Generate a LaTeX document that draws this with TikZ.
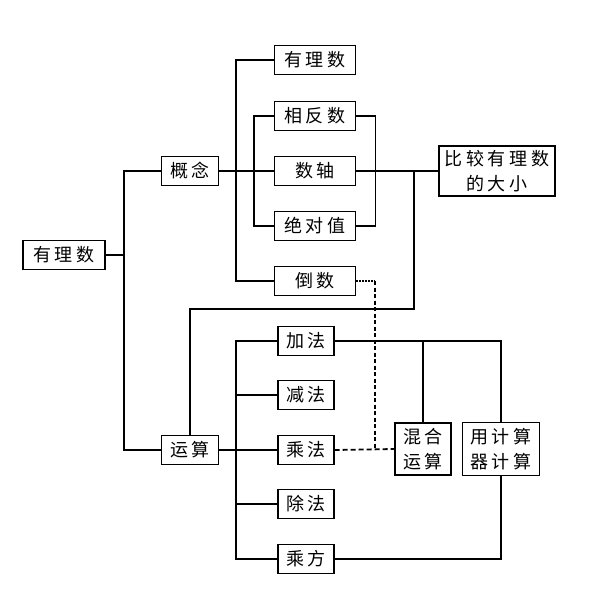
\documentclass[tikz,border=0pt]{standalone}
\usepackage{fontspec}
\newfontfamily\cjk[LetterSpace=22]{Noto Sans CJK SC}
\usetikzlibrary{positioning}

\tikzset{
  box/.style={draw, line width=1.4pt, inner sep=0pt, minimum height=29pt,
    align=center, font=\cjk\fontsize{18}{25}\selectfont},
  link/.style={line width=1.4pt},
}

\begin{document}
\begin{tikzpicture}[x=1pt, y=-1pt, link]
  \useasboundingbox (0,0) rectangle (595,604);

  % root and its two branches
  \node[box, minimum width=82pt] (root) at (64,255) {有理数};
  \node[box, minimum width=57pt] (gn) at (190,171) {概念};
  \node[box, minimum width=57pt] (ys) at (190,450) {运算};

  % concept part
  \node[box, minimum width=81pt] (yls) at (315,60) {有理数};
  \node[box, minimum width=81pt] (xfs) at (315,116) {相反数};
  \node[box, minimum width=81pt] (zs) at (315,171) {数轴};
  \node[box, minimum width=81pt] (jdz) at (315,226) {绝对值};
  \node[box, minimum width=81pt] (ds) at (315,281) {倒数};
  \node[box, minimum width=116pt, minimum height=50pt] (bj) at (497,171) {比较有理数\\的大小};

  % operation part
  \node[box, minimum width=56pt] (jf) at (306,341) {加法};
  \node[box, minimum width=56pt] (jian) at (306,395) {减法};
  \node[box, minimum width=56pt] (cf) at (306,450) {乘法};
  \node[box, minimum width=56pt] (chu) at (306,504) {除法};
  \node[box, minimum width=56pt] (cfang) at (306,559) {乘方};
  \node[box, minimum width=56pt, minimum height=52pt] (hh) at (423,449) {混合\\运算};
  \node[box, minimum width=77pt, minimum height=53pt] (jsq) at (501,449) {用计算\\器计算};

  \coordinate (t1) at (124,255);
  \coordinate (t2) at (236,171);
  \coordinate (t3) at (414,171);
  \coordinate (t4) at (414,309);
  \coordinate (t5) at (236,450);
  \coordinate (t6) at (375,281);

  % root tree
  \draw (root) -- (t1);
  \draw (gn.west) -| (t1) |- (ys.west);

  % concept tree
  \draw (gn.east) -- (zs.west);
  \draw (yls.west) -| (t2) |- (ds.west);
  \draw (xfs.west) -- ++(-20,0) |- (jdz.west);
  \draw (xfs.east) -- ++(19,0) |- (jdz.east);
  \draw (zs.east) -- (bj.west);
  \draw (t3) -- (t4) -| (ys.north);

  % operation tree
  \draw (ys.east) -- (cf.west);
  \draw (jf.west) -| (t5) |- (cfang.west);
  \draw (jian.west) -- (jian.west -| t5);
  \draw (chu.west) -- (chu.west -| t5);
  \draw (jf.east) -| (jsq.north);
  \draw (hh.north) -- (hh.north |- jf.east);
  \draw (jsq.south) |- (cfang.east);

  % dashed link
  \draw[line width=1.8pt, dash pattern=on 1.5pt off 1.5pt] (ds.east) -- (t6);
  \draw[line width=1.8pt, dash pattern=on 4pt off 2.5pt] (t6) -- (t6 |- cf.east);
  \draw[line width=1.8pt, dash pattern=on 5pt off 3pt] (cf.east) -- (hh.west);
\end{tikzpicture}
\end{document}
